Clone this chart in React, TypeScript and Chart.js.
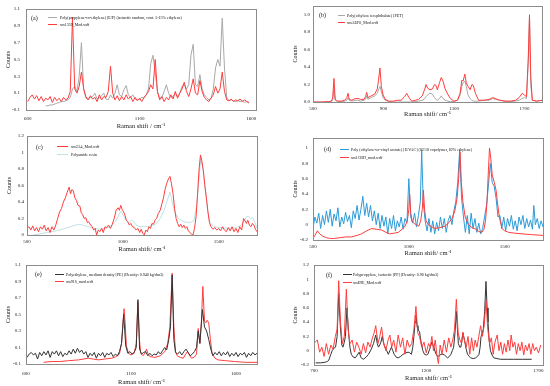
import React, { useEffect, useRef } from "react";
import { Chart, registerables } from "chart.js";

Chart.register(...registerables);

const FAMILY = "'Liberation Serif', 'Times New Roman', serif";
Chart.defaults.font.family = FAMILY;

// ---------------- (a) ----------------
const aShift = [600, 610, 620, 630, 640, 650, 660, 670, 680, 690, 700, 710, 720, 730, 740, 750, 760, 770, 780, 790, 800, 810, 820, 830, 840, 850, 860, 870, 880, 890, 900, 910, 920, 930, 940, 950, 960, 970, 980, 990, 1000, 1010, 1020, 1030, 1040, 1050, 1060, 1070, 1080, 1090, 1100, 1110, 1120, 1130, 1140, 1150, 1160, 1170, 1180, 1190, 1200, 1210, 1220, 1230, 1240, 1250, 1260, 1270, 1280, 1290, 1300, 1310, 1320, 1330, 1340, 1350, 1360, 1370, 1380, 1390, 1400, 1410, 1420, 1430, 1440, 1450, 1460, 1470, 1480, 1490, 1500, 1510, 1520, 1530, 1540, 1550, 1560, 1570, 1580, 1590];
const aSample = [0.0, 0.05, 0.08, 0.03, 0.07, 0.01, 0.06, 0.0, 0.04, 0.02, 0.06, -0.01, 0.05, 0.01, 0.04, 0.0, 0.05, 0.02, 0.04, 0.12, 1.0, 0.15, 0.1, 0.18, 0.35, 0.15, 0.06, 0.02, 0.07, 0.03, 0.05, 0.0, 0.08, 0.02, 0.06, 0.05, 0.12, 0.42, 0.1, 0.02, 0.07, 0.01, 0.06, 0.02, 0.08, 0.03, 0.06, 0.0, 0.05, 0.01, 0.04, 0.0, 0.05, 0.08, 0.12, 0.2, 0.15, 0.5, 0.12, 0.02, 0.06, 0.0, 0.05, 0.02, 0.08, 0.03, 0.12, 0.04, 0.1, 0.15, 0.23, 0.12, 0.06, 0.15, 0.27, 0.1, 0.08, 0.25, 0.12, 0.05, 0.02, 0.0, 0.04, 0.08, 0.18, 0.1, 0.15, 0.35, 0.12, 0.02, 0.01, 0.03, 0.0, 0.02, 0.01, 0.03, 0.0, 0.02, 0.0, -0.01];
const aReference = [null, null, null, null, null, null, null, null, -0.05, -0.05, -0.04, -0.04, -0.03, -0.02, -0.01, 0.0, 0.0, 0.01, 0.02, 0.05, 0.15, 0.18, 0.12, 0.3, 0.7, 0.15, 0.04, 0.03, 0.05, 0.06, 0.1, 0.03, 0.04, 0.07, 0.1, 0.03, 0.02, 0.08, 0.04, 0.1, 0.2, 0.08, 0.06, 0.14, 0.19, 0.08, 0.05, 0.08, 0.03, 0.02, 0.03, 0.05, 0.04, 0.08, 0.15, 0.45, 0.55, 0.35, 0.12, 0.04, 0.05, 0.12, 0.2, 0.1, 0.05, 0.06, 0.1, 0.06, 0.1, 0.18, 0.2, 0.15, 0.2, 0.55, 0.68, 0.2, 0.18, 0.32, 0.15, 0.08, 0.05, 0.02, 0.04, 0.15, 0.4, 0.5, 0.42, 0.99, 0.4, 0.05, 0.01, 0.02, 0.01, 0.0, 0.01, 0.0, 0.01, -0.01, 0.0, -0.02];
const aXTicks = [600, 1100, 1600];
const aYTicks = [-0.1, 0.1, 0.3, 0.5, 0.7, 0.9, 1.1];

// ---------------- (b) ----------------
const bShift = [500, 550, 590, 605, 612, 619, 626, 640, 660, 680, 692, 699, 706, 720, 740, 755, 770, 790, 798, 805, 812, 830, 850, 865, 872, 880, 888, 898, 910, 930, 955, 980, 1000, 1020, 1032, 1045, 1060, 1080, 1100, 1120, 1135, 1142, 1150, 1164, 1178, 1190, 1198, 1206, 1218, 1228, 1238, 1250, 1265, 1280, 1300, 1320, 1335, 1345, 1352, 1362, 1370, 1380, 1392, 1402, 1410, 1422, 1440, 1470, 1500, 1520, 1535, 1560, 1590, 1620, 1650, 1670, 1688, 1700, 1712, 1722, 1729, 1736, 1745, 1770, 1800];
const bSample = [0, 0, 0.005, 0.01, 0.05, 0.27, 0.03, 0.01, 0.01, 0.02, 0.05, 0.1, 0.03, 0.02, 0.04, 0.04, 0.03, 0.03, 0.06, 0.11, 0.05, 0.07, 0.09, 0.15, 0.25, 0.39, 0.18, 0.08, 0.03, 0.01, 0.01, 0.02, 0.02, 0.06, 0.1, 0.05, 0.01, 0.02, 0.03, 0.07, 0.15, 0.2, 0.16, 0.14, 0.15, 0.2, 0.19, 0.14, 0.22, 0.28, 0.24, 0.15, 0.09, 0.04, 0.01, 0.02, 0.1, 0.25, 0.24, 0.32, 0.22, 0.18, 0.14, 0.2, 0.19, 0.1, 0.02, 0.02, 0.03, 0.05, 0.04, 0.02, 0.01, 0.01, 0.02, 0.05, 0.1, 0.08, 0.06, 0.5, 1.0, 0.3, 0.02, 0.01, 0.02];
const bReference = [0, 0, 0, 0.01, 0.03, 0.15, 0.02, 0.005, 0.005, 0.01, 0.02, 0.05, 0.02, 0.01, 0.02, 0.02, 0.01, 0.02, 0.03, 0.07, 0.03, 0.05, 0.07, 0.1, 0.14, 0.18, 0.12, 0.05, 0.02, 0.005, 0, 0, 0, 0, 0, 0, 0, 0.005, 0.01, 0.02, 0.04, 0.06, 0.08, 0.1, 0.09, 0.05, 0.03, 0.02, 0.04, 0.07, 0.04, 0.02, 0.01, 0.005, 0.005, 0.02, 0.08, 0.18, 0.22, 0.24, 0.18, 0.08, 0.04, 0.02, 0.01, 0.01, 0.01, 0.02, 0.02, 0.04, 0.03, 0.02, 0.01, 0.005, 0.01, 0.02, 0.04, 0.05, 0.04, 0.45, 0.97, 0.2, 0.02, 0.01, 0.02];
const bXTicks = [500, 900, 1300, 1700];
const bYTicks = [0, 0.2, 0.4, 0.6, 0.8, 1.0];

// ---------------- (c) ----------------
const cSampleShift = [500, 510, 520, 530, 540, 550, 560, 570, 580, 590, 600, 610, 620, 630, 640, 650, 660, 670, 680, 690, 700, 710, 720, 727, 734, 741, 750, 758, 766, 776, 783, 790, 798, 807, 815, 822, 832, 840, 848, 856, 863, 872, 880, 890, 898, 907, 915, 925, 935, 945, 955, 965, 975, 982, 989, 996, 1004, 1011, 1018, 1026, 1034, 1042, 1050, 1060, 1070, 1078, 1088, 1096, 1104, 1112, 1120, 1128, 1136, 1144, 1152, 1160, 1168, 1176, 1185, 1195, 1204, 1212, 1220, 1228, 1238, 1246, 1254, 1262, 1270, 1278, 1286, 1294, 1302, 1310, 1318, 1326, 1334, 1342, 1350, 1358, 1366, 1374, 1382, 1390, 1398, 1405, 1412, 1420, 1428, 1436, 1444, 1452, 1460, 1470, 1480, 1490, 1500, 1510, 1520, 1530, 1540, 1550, 1560, 1570, 1580, 1590, 1600, 1610, 1620, 1630, 1638, 1645, 1652, 1660, 1668, 1676, 1684, 1692, 1700];
const cSample = [0.08, 0.1, 0.06, 0.11, 0.05, 0.09, 0.04, 0.1, 0.07, 0.12, 0.05, 0.09, 0.03, 0.1, 0.06, 0.12, 0.2, 0.28, 0.32, 0.4, 0.45, 0.52, 0.58, 0.5, 0.55, 0.54, 0.45, 0.42, 0.36, 0.35, 0.27, 0.25, 0.2, 0.21, 0.15, 0.16, 0.12, 0.1, 0.06, 0.08, 0.0, 0.06, 0.04, 0.08, 0.03, 0.1, 0.09, 0.12, 0.08, 0.13, 0.2, 0.3, 0.33, 0.3, 0.36, 0.31, 0.28, 0.24, 0.18, 0.16, 0.12, 0.14, 0.1, 0.09, 0.06, 0.08, 0.03, 0.07, 0.02, 0.0, 0.06, 0.04, 0.1, 0.08, 0.14, 0.13, 0.18, 0.2, 0.26, 0.3, 0.38, 0.45, 0.55, 0.62, 0.68, 0.71, 0.62, 0.5, 0.32, 0.2, 0.14, 0.1, 0.13, 0.09, 0.12, 0.08, 0.1, 0.05, 0.03, 0.01, 0.0, 0.08, 0.22, 0.5, 0.8, 0.97, 0.9, 0.78, 0.6, 0.45, 0.28, 0.15, 0.1, 0.07, 0.09, 0.06, 0.08, 0.05, 0.1, 0.06, 0.04, 0.09, 0.05, 0.1, 0.04, 0.08, 0.03, 0.1, 0.06, 0.2, 0.17, 0.14, 0.18, 0.12, 0.1, 0.14, 0.12, 0.07, 0.04];
const cReferenceShift = [530, 560, 600, 650, 700, 740, 770, 790, 820, 850, 880, 910, 940, 960, 975, 989, 1000, 1015, 1030, 1045, 1055, 1070, 1090, 1120, 1150, 1175, 1195, 1215, 1232, 1246, 1258, 1270, 1290, 1320, 1350, 1370, 1385, 1398, 1407, 1418, 1430, 1442, 1456, 1475, 1510, 1550, 1590, 1620, 1635, 1645, 1655, 1665, 1678, 1690, 1700];
const cReference = [0.0, 0.01, 0.03, 0.05, 0.08, 0.11, 0.13, 0.12, 0.1, 0.08, 0.07, 0.08, 0.11, 0.16, 0.22, 0.29, 0.25, 0.18, 0.15, 0.18, 0.17, 0.12, 0.1, 0.1, 0.11, 0.14, 0.2, 0.3, 0.42, 0.52, 0.4, 0.28, 0.2, 0.16, 0.15, 0.17, 0.35, 0.7, 0.93, 0.8, 0.55, 0.3, 0.15, 0.1, 0.09, 0.08, 0.09, 0.12, 0.18, 0.22, 0.23, 0.2, 0.21, 0.15, 0.08];
const cXTicks = [500, 1000, 1500];
const cYTicks = [0, 0.2, 0.4, 0.6, 0.8, 1, 1.2];

// ---------------- (d) ----------------
const dReferenceShift = [500, 510, 520, 530, 540, 550, 560, 570, 580, 590, 600, 610, 620, 630, 640, 650, 660, 670, 680, 690, 700, 710, 720, 730, 740, 750, 760, 770, 780, 790, 800, 810, 820, 830, 840, 850, 860, 870, 880, 890, 900, 910, 920, 930, 940, 950, 960, 970, 980, 990, 1000, 1010, 1020, 1030, 1040, 1050, 1060, 1067, 1075, 1085, 1095, 1105, 1115, 1125, 1135, 1145, 1155, 1165, 1175, 1185, 1195, 1205, 1215, 1225, 1235, 1245, 1255, 1265, 1275, 1285, 1295, 1305, 1315, 1325, 1335, 1345, 1355, 1365, 1375, 1385, 1395, 1405, 1415, 1425, 1435, 1445, 1455, 1465, 1475, 1485, 1495, 1505, 1515, 1525, 1535, 1545, 1555, 1565, 1575, 1585, 1595, 1605, 1615, 1625, 1635, 1645, 1652, 1660, 1670, 1680, 1690, 1700];
const dReference = [-0.05, 0.1, 0.02, 0.15, -0.05, 0.12, 0.0, 0.18, 0.03, 0.2, -0.02, 0.14, 0.05, 0.22, -0.03, 0.1, 0.01, 0.16, 0.04, 0.12, -0.04, 0.18, 0.08, 0.25, 0.06, 0.2, 0.37, 0.12, 0.28, 0.1, 0.25, 0.05, 0.18, 0.0, 0.15, -0.05, 0.12, -0.02, 0.1, -0.12, 0.08, -0.05, 0.12, -0.08, 0.05, -0.03, 0.1, -0.06, 0.08, 0.02, 0.6, 0.1, 0.02, 0.15, -0.03, 0.12, 0.3, 0.97, 0.3, 0.05, -0.08, 0.08, -0.1, 0.05, -0.12, 0.03, -0.08, 0.1, -0.05, 0.08, -0.1, 0.05, 0.12, 0.0, 0.18, 0.3, 0.55, 0.97, 0.35, 0.1, -0.1, 0.12, -0.12, 0.15, -0.05, 0.08, -0.1, 0.02, -0.12, -0.05, 0.1, 0.25, 0.5, 0.8, 0.55, 0.5, 0.35, 0.1, 0.12, -0.05, 0.1, -0.08, 0.08, -0.02, 0.12, -0.06, 0.05, -0.08, 0.1, 0.0, 0.12, -0.05, 0.08, -0.03, 0.06, -0.06, 0.25, 0.0, 0.08, -0.05, 0.05, -0.03];
const dSampleShift = [500, 510, 523, 535, 550, 570, 590, 613, 640, 670, 700, 730, 753, 780, 805, 830, 858, 880, 901, 925, 945, 965, 980, 992, 1000, 1004, 1010, 1018, 1030, 1041, 1052, 1062, 1070, 1076, 1082, 1090, 1102, 1120, 1137, 1160, 1189, 1210, 1225, 1240, 1252, 1260, 1267, 1274, 1282, 1294, 1311, 1330, 1350, 1365, 1381, 1392, 1400, 1408, 1415, 1421, 1428, 1435, 1446, 1455, 1462, 1472, 1486, 1500, 1521, 1550, 1591, 1640, 1700];
const dSample = [-0.18, -0.14, -0.08, -0.12, -0.15, -0.17, -0.18, -0.18, -0.17, -0.16, -0.16, -0.14, -0.12, -0.08, -0.05, -0.06, -0.07, -0.1, -0.12, -0.11, -0.1, -0.06, -0.02, 0.05, 0.2, 0.4, 0.15, 0.04, 0.01, 0.0, -0.02, 0.05, 0.2, 0.45, 0.2, 0.05, 0.0, -0.03, -0.05, -0.04, -0.02, 0.03, 0.08, 0.18, 0.35, 0.6, 0.95, 0.55, 0.3, 0.1, 0.0, -0.04, -0.06, -0.09, -0.1, -0.06, 0.05, 0.3, 0.7, 1.0, 0.85, 0.65, 0.55, 0.45, 0.3, 0.1, -0.05, -0.08, -0.1, -0.11, -0.12, -0.13, -0.14];
const dXTicks = [500, 1000, 1500];
const dYTicks = [-0.2, 0, 0.2, 0.4, 0.6, 0.8, 1];

// ---------------- (e) ----------------
const eReferenceShift = [605, 615, 625, 635, 645, 655, 665, 675, 685, 695, 705, 715, 725, 735, 745, 755, 765, 775, 785, 795, 805, 815, 825, 835, 845, 855, 865, 875, 885, 895, 905, 915, 925, 935, 945, 955, 965, 975, 985, 995, 1005, 1015, 1025, 1035, 1045, 1055, 1065, 1075, 1085, 1095, 1105, 1115, 1125, 1133, 1141, 1150, 1160, 1170, 1180, 1190, 1200, 1210, 1220, 1230, 1240, 1250, 1260, 1270, 1280, 1288, 1296, 1304, 1312, 1322, 1332, 1342, 1352, 1362, 1372, 1382, 1392, 1402, 1412, 1420, 1428, 1440, 1450, 1460, 1470, 1480, 1490, 1500, 1510, 1520, 1530, 1540, 1550, 1560, 1570, 1580, 1590, 1600, 1610, 1620, 1630, 1640, 1650, 1660, 1670, 1680, 1690, 1700];
const eReference = [-0.02, 0.02, 0.04, 0.01, 0.03, -0.04, 0.04, 0.0, 0.05, 0.01, 0.06, -0.02, 0.05, 0.02, 0.06, 0.0, 0.05, -0.01, 0.03, 0.01, 0.06, 0.02, 0.08, 0.03, 0.09, 0.04, 0.07, 0.02, 0.05, -0.02, 0.03, 0.0, 0.04, -0.03, 0.03, 0.0, 0.04, -0.02, 0.03, 0.01, 0.04, -0.01, 0.02, 0.0, 0.05, 0.15, 0.5, 0.12, 0.03, 0.05, 0.02, 0.04, 0.1, 0.68, 0.08, 0.02, 0.04, 0.05, 0.0, 0.03, 0.0, 0.02, 0.01, 0.05, 0.02, 0.06, 0.1, 0.07, 0.2, 0.35, 0.98, 0.2, 0.04, 0.02, 0.05, 0.01, 0.05, 0.08, 0.04, 0.0, 0.02, 0.05, 0.1, 0.3, 0.15, 0.56, 0.35, 0.3, 0.2, 0.08, 0.0, 0.04, 0.01, 0.05, 0.0, 0.04, 0.01, 0.05, -0.01, 0.03, 0.0, 0.04, -0.01, 0.03, 0.01, 0.04, -0.02, 0.03, 0.0, 0.04, 0.01, 0.03];
const eSampleShift = [684, 720, 760, 802, 850, 897, 920, 945, 975, 1008, 1030, 1045, 1055, 1062, 1067, 1072, 1078, 1088, 1100, 1115, 1125, 1133, 1140, 1146, 1158, 1168, 1174, 1180, 1190, 1214, 1240, 1261, 1275, 1285, 1296, 1304, 1312, 1320, 1335, 1349, 1360, 1369, 1378, 1388, 1400, 1412, 1420, 1428, 1435, 1442, 1450, 1457, 1463, 1470, 1478, 1486, 1500, 1514, 1550, 1593, 1650, 1700];
const eSample = [-0.08, -0.07, -0.07, -0.06, -0.05, -0.03, -0.04, -0.05, -0.04, -0.03, -0.01, 0.02, 0.15, 0.4, 0.57, 0.4, 0.12, 0.03, 0.01, 0.03, 0.15, 0.65, 0.2, 0.03, 0.0, 0.04, 0.08, 0.03, -0.01, -0.02, 0.0, 0.05, 0.15, 0.35, 1.0, 0.35, 0.05, 0.0, -0.02, -0.03, 0.02, 0.05, 0.01, -0.03, -0.02, 0.02, 0.33, 0.15, 0.4, 0.84, 0.42, 0.4, 0.43, 0.4, 0.2, 0.03, -0.03, -0.05, -0.06, -0.07, -0.08, -0.08];
const eXTicks = [600, 1100, 1600];
const eYTicks = [-0.1, 0.1, 0.3, 0.5, 0.7, 0.9, 1.1];

// ---------------- (f) ----------------
const fReferenceShift = [707, 730, 751, 760, 766, 775, 781, 790, 796, 803, 810, 817, 824, 829, 835, 840, 847, 854, 860, 866, 875, 884, 893, 901, 910, 920, 932, 943, 955, 965, 975, 982, 987, 993, 998, 1004, 1010, 1016, 1024, 1031, 1038, 1045, 1051, 1057, 1066, 1075, 1086, 1097, 1108, 1119, 1127, 1134, 1140, 1145, 1150, 1154, 1159, 1163, 1167, 1170, 1174, 1178, 1185, 1192, 1200, 1207, 1215, 1225, 1230, 1234, 1242, 1251, 1258, 1266, 1274, 1281, 1288, 1295, 1303, 1310, 1316, 1322, 1328, 1334, 1339, 1343, 1349, 1354, 1358, 1363, 1368, 1372, 1378, 1384, 1391, 1398, 1409, 1420, 1428, 1435, 1440, 1444, 1450, 1454, 1460, 1466, 1471, 1475, 1480, 1486, 1493, 1501, 1515, 1531, 1560, 1589, 1630, 1670];
const fReference = [-0.17, -0.17, -0.16, -0.15, -0.13, -0.05, 0.0, 0.04, 0.05, 0.2, 0.8, 0.35, 0.08, 0.05, 0.12, 0.2, 0.6, 0.25, 0.05, -0.05, -0.09, -0.1, -0.06, -0.02, -0.1, -0.12, -0.09, -0.05, 0.02, 0.1, 0.22, 0.1, 0.05, 0.08, 0.12, 0.2, 0.1, 0.05, 0.0, -0.05, 0.0, 0.05, 0.0, -0.05, -0.09, -0.1, -0.08, -0.05, -0.03, -0.02, -0.03, -0.05, 0.05, 0.2, 0.4, 0.5, 0.35, 0.28, 0.28, 0.27, 0.18, 0.1, 0.0, -0.05, -0.06, -0.05, 0.02, 0.12, 0.08, 0.05, -0.04, -0.08, -0.07, -0.05, -0.05, -0.06, -0.08, -0.1, -0.08, -0.05, 0.0, 0.05, 0.25, 0.55, 0.3, 0.1, 0.05, 0.05, 0.12, 0.25, 0.18, 0.12, 0.02, -0.05, -0.08, -0.1, -0.11, -0.1, -0.08, -0.05, 0.05, 0.2, 0.25, 0.3, 0.55, 0.97, 0.6, 0.4, 0.15, 0.0, -0.06, -0.1, -0.11, -0.12, -0.12, -0.12, -0.12, -0.12];
const fSampleShift = [705, 715, 725, 735, 745, 755, 765, 775, 785, 795, 803, 810, 818, 826, 835, 844, 852, 860, 870, 880, 890, 900, 910, 920, 930, 940, 950, 960, 968, 975, 985, 993, 1001, 1010, 1020, 1030, 1038, 1046, 1055, 1065, 1075, 1085, 1095, 1105, 1115, 1125, 1135, 1145, 1154, 1162, 1170, 1180, 1190, 1200, 1210, 1218, 1225, 1232, 1240, 1247, 1254, 1262, 1270, 1280, 1290, 1300, 1310, 1318, 1326, 1334, 1342, 1350, 1357, 1363, 1370, 1378, 1386, 1394, 1402, 1410, 1418, 1426, 1434, 1442, 1450, 1458, 1466, 1474, 1482, 1490, 1498, 1506, 1516, 1524, 1532, 1540, 1548, 1556, 1564, 1572, 1578, 1586, 1594, 1602, 1610, 1618, 1626, 1634, 1642, 1650, 1658, 1666, 1674, 1682, 1690, 1700, 1710];
const fSample = [0.12, 0.15, -0.02, 0.05, -0.08, 0.1, -0.05, 0.08, 0.02, 0.2, 0.3, 0.98, 0.4, 0.1, 0.2, 0.86, 0.3, 0.1, 0.15, -0.02, 0.12, 0.05, -0.05, 0.1, -0.03, 0.12, 0.05, 0.18, 0.25, 0.35, 0.1, 0.2, 0.33, 0.12, 0.0, 0.15, 0.22, 0.05, 0.15, -0.02, 0.22, 0.05, 0.18, -0.05, 0.15, 0.05, 0.1, 0.3, 0.62, 0.25, 0.2, 0.05, 0.12, -0.03, 0.1, 0.05, 0.2, 0.0, 0.15, -0.05, -0.18, 0.08, -0.05, 0.15, -0.02, 0.18, 0.05, 0.15, 0.3, 0.72, 0.25, 0.15, 0.1, 0.26, 0.15, 0.05, 0.2, -0.05, 0.18, 0.0, 0.15, 0.05, 0.2, 0.35, 0.2, 0.35, 0.7, 0.3, 0.1, 0.18, -0.05, 0.12, 0.22, 0.0, 0.12, -0.05, 0.1, -0.02, 0.15, 0.0, 0.22, 0.05, 0.12, -0.05, 0.1, 0.0, 0.12, -0.06, 0.08, 0.0, 0.1, -0.05, 0.1, 0.0, 0.05, -0.03, 0.08];
const fXTicks = [700, 1200, 1700];
const fYTicks = [-0.2, 0, 0.2, 0.4, 0.6, 0.8, 1, 1.2];

// ---------------- styling ----------------
const RED = "#ff3d3d";
const GRAY = "#a8a8a8";
const BLACK = "#333333";
const BLUE = "#2b9bd8";
const CYAN = "#bfe2e4";
const TICK = 5;
const TITLE = 6.5;
const YTITLE = 6;
const LEG = 4;
const TAG = 6;

const pts = (xs: number[], ys: (number | null)[]) => xs.map((x, i) => ({ x, y: ys[i] }));

const panelDecor = {
  id: "panelDecor",
  afterDraw(chart: any, _a: any, opts: any) {
    if (!opts || !opts.tag) return;
    const { ctx, chartArea: ca } = chart;
    ctx.save();
    ctx.strokeStyle = "#8c8c8c";
    ctx.lineWidth = 1;
    ctx.strokeRect(Math.round(ca.left) + 0.5, Math.round(ca.top) + 0.5, Math.round(ca.right - ca.left), Math.round(ca.bottom - ca.top));
    ctx.fillStyle = "#111";
    ctx.textBaseline = "middle";
    ctx.textAlign = "left";
    ctx.font = `${TAG}px ${FAMILY}`;
    ctx.fillText(opts.tag, ca.left + opts.tagDx, ca.top + opts.tagDy);
    ctx.font = `${LEG}px ${FAMILY}`;
    opts.order.forEach((di: number, k: number) => {
      const ds = chart.data.datasets[di];
      const y = Math.round(ca.top + opts.rows[k]) + 0.5;
      ctx.strokeStyle = ds.borderColor;
      ctx.lineWidth = 1;
      ctx.beginPath();
      ctx.moveTo(ca.left + opts.line[0], y);
      ctx.lineTo(ca.left + opts.line[1], y);
      ctx.stroke();
      ctx.fillStyle = "#111";
      ctx.fillText(ds.label, ca.left + opts.textDx, y);
    });
    ctx.restore();
  },
};
Chart.register(panelDecor);

type Series = { label: string; color: string; data: { x: number; y: number | null }[] };
type PanelCfg = {
  box: { x: number; y: number; w: number; h: number };
  area: { l: number; t: number; r: number; b: number };
  xMin: number; xMax: number; yMin: number; yMax: number;
  xTicks: number[]; yTicks: number[];
  yFmt: (v: number) => string;
  xTitle: string;
  tickY: number; titleY: number; countsX: number; yPad: number;
  series: Series[];
  legend: { tag: string; tagDx: number; tagDy: number; line: number[]; textDx: number; rows: number[]; order: number[] };
};

const fix1 = (v: number) => v.toFixed(1);
const trim = (v: number) => String(parseFloat(v.toFixed(1)));

const PANELS: PanelCfg[] = [
  {
    box: { x: 0, y: 0, w: 270, h: 130 }, area: { l: 26, t: 6, r: 256, b: 110 },
    xMin: 592, xMax: 1621, yMin: -0.1, yMax: 1.1, xTicks: aXTicks, yTicks: aYTicks, yFmt: fix1,
    xTitle: "Raman shift / cm\u207B\u00B9", tickY: 119, titleY: 126, countsX: 8, yPad: 6,
    series: [
      { label: "sm1359_Mod.wdf", color: RED, data: pts(aShift, aSample) },
      { label: "Poly(propylene-co-ethylene) [E/P] (isotactic random, cont. 5-15% ethylene)", color: GRAY, data: pts(aShift, aReference) },
    ],
    legend: { tag: "(a)", tagDx: 5, tagDy: 9, line: [22, 31], textDx: 34, rows: [8, 15], order: [1, 0] },
  },
  {
    box: { x: 278, y: 0, w: 272, h: 130 }, area: { l: 313, t: 5, r: 542, b: 102 },
    xMin: 500, xMax: 1800, yMin: 0, yMax: 1.1, xTicks: bXTicks, yTicks: bYTicks, yFmt: fix1,
    xTitle: "Raman shift/ cm\u207B\u00B9", tickY: 109, titleY: 114.5, countsX: 295, yPad: 3,
    series: [
      { label: "smAEF0_Mod.wdf", color: RED, data: pts(bShift, bSample) },
      { label: "Poly(ethylene terephthalate) [PET]", color: GRAY, data: pts(bShift, bReference) },
    ],
    legend: { tag: "(b)", tagDx: 6, tagDy: 9, line: [25, 32], textDx: 34, rows: [9, 16], order: [1, 0] },
  },
  {
    box: { x: 0, y: 130, w: 270, h: 127 }, area: { l: 27, t: 133, r: 257, b: 235 },
    xMin: 500, xMax: 1700, yMin: 0, yMax: 1.2, xTicks: cXTicks, yTicks: cYTicks, yFmt: trim,
    xTitle: "Raman shift/ cm\u207B\u00B9", tickY: 242, titleY: 249, countsX: 9, yPad: 3,
    series: [
      { label: "sm2A4_Mod.wdf", color: RED, data: pts(cSampleShift, cSample) },
      { label: "Polyamide resin", color: CYAN, data: pts(cReferenceShift, cReference) },
    ],
    legend: { tag: "(c)", tagDx: 9, tagDy: 11, line: [30, 41], textDx: 44, rows: [10, 18], order: [0, 1] },
  },
  {
    box: { x: 278, y: 130, w: 272, h: 127 }, area: { l: 313, t: 133, r: 543, b: 240 },
    xMin: 500, xMax: 1700, yMin: -0.2, yMax: 1.13, xTicks: dXTicks, yTicks: dYTicks, yFmt: trim,
    xTitle: "Raman shift/ cm\u207B\u00B9", tickY: 247, titleY: 254, countsX: 295, yPad: 5,
    series: [
      { label: "sm1CBD_mod.wdf", color: RED, data: pts(dSampleShift, dSample) },
      { label: "Poly (ethylene-co-vinyl acetate) [E/VAC] (82/18 copolymer, 82% ethylene)", color: BLUE, data: pts(dReferenceShift, dReference) },
    ],
    legend: { tag: "(d)", tagDx: 11, tagDy: 11, line: [27, 36], textDx: 38, rows: [11, 19], order: [1, 0] },
  },
  {
    box: { x: 0, y: 257, w: 270, h: 129 }, area: { l: 26, t: 261, r: 257, b: 364 },
    xMin: 600, xMax: 1700, yMin: -0.1, yMax: 1.1, xTicks: eXTicks, yTicks: eYTicks, yFmt: fix1,
    xTitle: "Raman shift/ cm\u207B\u00B9", tickY: 374, titleY: 382, countsX: 8, yPad: 5,
    series: [
      { label: "Polyethylene, medium density [PE] (Density: 0.940 kg/dm3)", color: BLACK, data: pts(eReferenceShift, eReference) },
      { label: "sm916_mod.wdf", color: RED, data: pts(eSampleShift, eSample) },
    ],
    legend: { tag: "(e)", tagDx: 9, tagDy: 9, line: [29, 38], textDx: 40, rows: [9, 16], order: [0, 1] },
  },
  {
    box: { x: 278, y: 257, w: 272, h: 129 }, area: { l: 314, t: 261, r: 543, b: 365 },
    xMin: 700, xMax: 1720, yMin: -0.2, yMax: 1.2, xTicks: fXTicks, yTicks: fYTicks, yFmt: trim,
    xTitle: "Raman shift/ cm\u207B\u00B9", tickY: 371, titleY: 378, countsX: 295, yPad: 5,
    series: [
      { label: "smE9E_Mod.wdf", color: RED, data: pts(fSampleShift, fSample) },
      { label: "Polypropylene, isotactic [PP] (Density: 0.90 kg/dm3)", color: BLACK, data: pts(fReferenceShift, fReference) },
    ],
    legend: { tag: "(f)", tagDx: 12, tagDy: 10, line: [29, 38], textDx: 39, rows: [9, 17], order: [1, 0] },
  },
];

function buildConfig(p: PanelCfg): any {
  const { box, area } = p;
  const xH = box.y + box.h - area.b;
  const yW = area.l - box.x;
  const titleLH = TITLE * 1.2;
  const yTitleLH = YTITLE * 1.2;
  return {
    type: "line",
    data: {
      datasets: p.series.map((s) => ({
        label: s.label,
        data: s.data,
        borderColor: s.color,
        backgroundColor: s.color,
        borderWidth: 1,
        pointRadius: 0,
        tension: 0,
        fill: false,
      })),
    },
    options: {
      responsive: false,
      animation: false,
      devicePixelRatio: 1,
      events: [],
      layout: { padding: { left: 0, top: area.t - box.y, right: box.x + box.w - area.r, bottom: 0 } },
      plugins: {
        legend: { display: false },
        tooltip: { enabled: false },
        panelDecor: p.legend,
      },
      scales: {
        x: {
          type: "linear",
          min: p.xMin,
          max: p.xMax,
          grid: { display: false, drawTicks: false },
          border: { display: false },
          ticks: { font: { size: TICK }, color: "#222", padding: Math.max(0, p.tickY - area.b - 3), autoSkip: false, maxRotation: 0, callback: (v: number) => String(v) },
          title: { display: true, text: p.xTitle, color: "#222", font: { size: TITLE }, padding: { top: 0, bottom: Math.max(0, box.y + box.h - p.titleY - titleLH / 2) } },
          afterBuildTicks: (s: any) => { s.ticks = p.xTicks.map((v) => ({ value: v })); },
          afterFit: (s: any) => { s.height = xH; },
        },
        y: {
          type: "linear",
          min: p.yMin,
          max: p.yMax,
          grid: { display: false, drawTicks: false },
          border: { display: false },
          ticks: { font: { size: TICK }, color: "#222", padding: p.yPad, autoSkip: false, callback: (v: number) => p.yFmt(v) },
          title: { display: true, text: "Counts", color: "#222", font: { size: YTITLE }, padding: { top: Math.max(0, p.countsX - box.x - yTitleLH / 2), bottom: 0 } },
          afterBuildTicks: (s: any) => { s.ticks = p.yTicks.map((v) => ({ value: v })); },
          afterFit: (s: any) => { s.width = yW; },
        },
      },
    },
  };
}

function Panel({ cfg }: { cfg: PanelCfg }) {
  const ref = useRef<HTMLCanvasElement>(null);
  useEffect(() => {
    const chart = new Chart(ref.current as HTMLCanvasElement, buildConfig(cfg));
    return () => chart.destroy();
  }, [cfg]);
  return (
    <canvas
      ref={ref}
      width={cfg.box.w}
      height={cfg.box.h}
      style={{ position: "absolute", left: cfg.box.x, top: cfg.box.y, width: cfg.box.w, height: cfg.box.h }}
    />
  );
}

export default function App() {
  return (
    <div style={{ position: "fixed", left: 0, top: 0, width: 550, height: 386, background: "#fff", overflow: "hidden" }}>
      {PANELS.map((p, i) => (
        <Panel key={i} cfg={p} />
      ))}
    </div>
  );
}
